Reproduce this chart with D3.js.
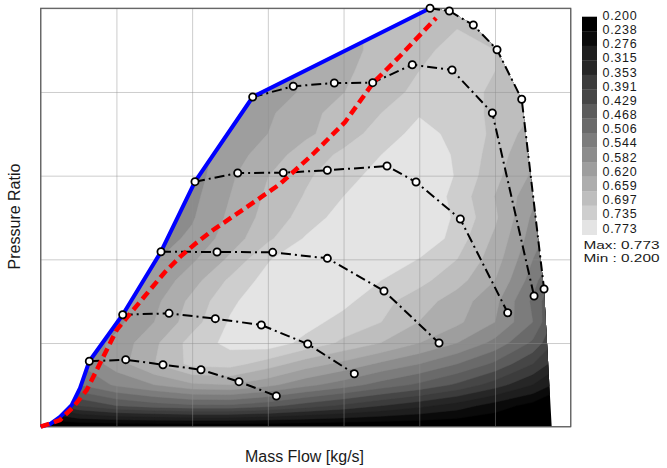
<!DOCTYPE html>
<html>
<head>
<meta charset="utf-8">
<script src="https://cdn.jsdelivr.net/npm/d3@7"></script>
<style>
  html, body { margin: 0; padding: 0; background: #fff; }
  svg { display: block; font-family: "Liberation Sans", Arial, sans-serif; }
</style>
</head>
<body>
<svg id="chart" width="667" height="468"></svg>
<script>
// ---- Efficiency levels of the colour key ----
const levelLabels = ["0.200","0.238","0.276","0.315","0.353","0.391","0.429","0.468",
                     "0.506","0.544","0.582","0.620","0.659","0.697","0.735","0.773"];
const effMax = 0.773;
const effMin = 0.200;

// ---- Efficiency field sampled on a regular grid ----
// columns: mass flow, rows: pressure ratio from top (6) to bottom (1)
const gridMassFlow = [0, 0.5, 1, 1.5, 2, 2.5, 3, 3.5, 4, 4.5, 5, 5.5, 6, 6.5, 7];
const gridPressureRatio = [6, 5.75, 5.5, 5.25, 5, 4.75, 4.5, 4.25, 4, 3.75, 3.5,
                           3.25, 3, 2.75, 2.5, 2.25, 2, 1.75, 1.5, 1.25, 1];
const efficiencyGrid = [
  [0.582,0.582,0.582,0.582,0.582,0.601,0.620,0.639,0.658,0.670,0.678,0.689,0.678,0.658,0.639],
  [0.582,0.582,0.582,0.582,0.582,0.601,0.620,0.632,0.651,0.666,0.681,0.697,0.689,0.666,0.639],
  [0.582,0.582,0.582,0.582,0.582,0.601,0.620,0.632,0.647,0.670,0.689,0.708,0.697,0.670,0.639],
  [0.582,0.582,0.582,0.582,0.582,0.593,0.613,0.624,0.651,0.678,0.697,0.708,0.697,0.670,0.639],
  [0.574,0.574,0.574,0.574,0.574,0.582,0.593,0.628,0.658,0.685,0.704,0.716,0.689,0.658,0.620],
  [0.574,0.574,0.574,0.574,0.574,0.582,0.613,0.647,0.674,0.697,0.731,0.716,0.689,0.658,0.620],
  [0.574,0.574,0.574,0.574,0.574,0.590,0.620,0.651,0.681,0.712,0.750,0.723,0.689,0.639,0.601],
  [0.563,0.563,0.563,0.563,0.563,0.601,0.639,0.678,0.704,0.735,0.773,0.727,0.681,0.620,0.582],
  [0.555,0.555,0.555,0.555,0.563,0.613,0.658,0.691,0.720,0.750,0.773,0.731,0.670,0.613,0.563],
  [0.555,0.555,0.555,0.555,0.571,0.620,0.666,0.700,0.735,0.773,0.773,0.720,0.658,0.593,0.525],
  [0.563,0.563,0.563,0.563,0.578,0.628,0.674,0.712,0.754,0.773,0.773,0.727,0.666,0.574,0.506],
  [0.563,0.563,0.563,0.563,0.590,0.639,0.689,0.739,0.773,0.773,0.773,0.716,0.651,0.563,0.487],
  [0.563,0.563,0.563,0.578,0.613,0.666,0.731,0.773,0.773,0.773,0.733,0.697,0.639,0.544,0.467],
  [0.563,0.563,0.563,0.590,0.643,0.704,0.750,0.773,0.773,0.735,0.708,0.674,0.620,0.525,0.391],
  [0.563,0.563,0.567,0.609,0.670,0.727,0.762,0.773,0.746,0.708,0.678,0.639,0.593,0.498,0.372],
  [0.563,0.563,0.571,0.620,0.681,0.739,0.773,0.750,0.720,0.697,0.658,0.628,0.582,0.506,0.353],
  [0.544,0.555,0.593,0.651,0.712,0.746,0.758,0.723,0.689,0.658,0.620,0.582,0.532,0.460,0.334],
  [0.525,0.544,0.601,0.658,0.708,0.712,0.678,0.639,0.609,0.574,0.544,0.506,0.460,0.391,0.296],
  [0.429,0.506,0.551,0.582,0.613,0.620,0.593,0.555,0.525,0.490,0.460,0.422,0.372,0.315,0.238],
  [0.315,0.391,0.429,0.448,0.460,0.460,0.441,0.410,0.383,0.353,0.326,0.296,0.257,0.223,0.200],
  [0.200,0.200,0.200,0.200,0.200,0.200,0.200,0.200,0.200,0.200,0.200,0.200,0.200,0.200,0.200]
];

// ---- Speed lines (mass flow, pressure ratio of each measured point) ----
const speedLineFlow = [
  [0.642, 1.123, 1.615, 2.117, 2.619, 3.112],
  [1.083, 1.695, 2.306, 2.914, 3.527, 4.142],
  [1.589, 2.329, 3.064, 3.786, 4.534, 5.261],
  [2.038, 2.602, 3.204, 3.786, 4.574, 4.957, 5.542, 6.168],
  [2.800, 3.336, 3.878, 4.385, 4.908, 5.433, 5.965, 6.516],
  [5.142, 5.397, 5.714, 6.027, 6.353, 6.648]
];
const speedLinePR = [
  [1.782, 1.801, 1.741, 1.681, 1.538, 1.367],
  [2.338, 2.355, 2.291, 2.215, 1.988, 1.633],
  [3.091, 3.088, 3.084, 3.012, 2.622, 2.000],
  [3.928, 4.032, 4.035, 4.064, 4.115, 3.924, 3.482, 2.362],
  [4.940, 5.068, 5.107, 5.111, 5.326, 5.263, 4.749, 2.562],
  [6.000, 5.968, 5.800, 5.505, 4.913, 2.646]
];

// ---- Surge line ----
const surgeFlow = [0, 0.123, 0.255, 0.409, 0.519, 0.642, 1.083, 1.589, 2.038, 2.800, 5.142];
const surgePR   = [1.000, 1.032, 1.116, 1.259, 1.462, 1.782, 2.338, 3.091, 3.928, 4.940, 6.000];

// ---- Choke limit at zero pressure rise ----
const chokeFlow = [6.749];
const chokePR   = [1.000];

// ---- Operating line ----
const operatingFlow = [0, 0.255, 0.431, 0.608, 0.740, 0.872, 1.004, 1.223, 1.444, 1.642, 1.840,
                       2.038, 2.276, 2.725, 3.161, 3.597, 4.020, 4.389, 4.746, 5.222];
const operatingPR   = [1.000, 1.080, 1.235, 1.439, 1.678, 1.917, 2.157, 2.396, 2.635, 2.849, 3.029,
                       3.183, 3.351, 3.626, 3.900, 4.259, 4.641, 5.107, 5.430, 5.884];

// ---- Grey ramp for the efficiency bands ----
const bandGreys = ["#000000","#0a0a0a","#1e1e1e","#262626","#3c3c3c","#464646","#5c5c5c",
                   "#6a6a6a","#7c7c7c","#8c8c8c","#9e9e9e","#adadad","#bebebe","#cecece","#e4e4e4"];

const svg = d3.select("#chart");
const plot = { left: 40.7, right: 570.7, top: 8.3, bottom: 426.7 };

const x = d3.scaleLinear().domain([0, 7]).range([plot.left, plot.right]);
const y = d3.scaleLinear().domain([1, 6]).range([plot.bottom, plot.top]);

const zip = (xs, ys) => xs.map((v, i) => [v, ys[i]]);
const line = d3.line().x(d => x(d[0])).y(d => y(d[1]));

// Map envelope: surge line, top speed line, choke edge, zero-pressure-rise floor
const topLine = zip(speedLineFlow[5], speedLinePR[5]);
const envelope = zip(surgeFlow, surgePR)
  .concat(topLine.slice(1))
  .concat(zip(chokeFlow, chokePR));

svg.append("clipPath").attr("id", "mapClip")
  .append("path").attr("d", line(envelope) + "Z");

// ---- Filled efficiency contours ----
const nx = gridMassFlow.length, ny = gridPressureRatio.length;
const stepX = gridMassFlow[1] - gridMassFlow[0];
const stepY = gridPressureRatio[0] - gridPressureRatio[1];
const thresholds = levelLabels.slice(0, bandGreys.length).map(Number);
const contours = d3.contours().size([nx, ny]).thresholds(thresholds)(efficiencyGrid.flat());
const gridToScreen = d3.geoTransform({
  point(gx, gy) {
    this.stream.point(
      x(gridMassFlow[0] + (gx - 0.5) * stepX),
      y(gridPressureRatio[0] - (gy - 0.5) * stepY)
    );
  }
});
const contourPath = d3.geoPath(gridToScreen);

svg.append("g").attr("clip-path", "url(#mapClip)")
  .selectAll("path").data(contours).join("path")
  .attr("d", contourPath)
  .attr("fill", d => bandGreys[thresholds.indexOf(d.value)])
  .attr("stroke", d => bandGreys[thresholds.indexOf(d.value)])
  .attr("stroke-width", 0.4);

// ---- Grid ----
const grid = svg.append("g").attr("class", "grid");
grid.append("g").attr("transform", `translate(0,${plot.bottom})`)
  .call(d3.axisBottom(x).ticks(7).tickSize(-(plot.bottom - plot.top)).tickFormat(""));
grid.append("g").attr("transform", `translate(${plot.left},0)`)
  .call(d3.axisLeft(y).ticks(5).tickSize(-(plot.right - plot.left)).tickFormat(""));
grid.selectAll(".domain").remove();
grid.selectAll(".tick line").attr("stroke", "#8f8f8f").attr("stroke-opacity", 0.45).attr("stroke-width", 1);

// ---- Frame ----
svg.append("rect")
  .attr("x", plot.left).attr("y", plot.top)
  .attr("width", plot.right - plot.left).attr("height", plot.bottom - plot.top)
  .attr("fill", "none").attr("stroke", "#5a5a5a").attr("stroke-width", 1.2);

// ---- Speed lines ----
speedLineFlow.forEach((flows, k) => {
  svg.append("path")
    .attr("d", line(zip(flows, speedLinePR[k])))
    .attr("fill", "none").attr("stroke", "#000").attr("stroke-width", 2)
    .attr("stroke-dasharray", "10,4,2,4");
});

// ---- Surge line ----
svg.append("path")
  .attr("d", line(zip(surgeFlow, surgePR)))
  .attr("fill", "none").attr("stroke", "#0000ff").attr("stroke-width", 4)
  .attr("stroke-linejoin", "round");

// ---- Operating line ----
svg.append("path")
  .attr("d", line(zip(operatingFlow, operatingPR)))
  .attr("fill", "none").attr("stroke", "#ff0000").attr("stroke-width", 4.5)
  .attr("stroke-dasharray", "9,5");

// ---- Measured points ----
speedLineFlow.forEach((flows, k) => {
  svg.append("g").selectAll("circle").data(zip(flows, speedLinePR[k])).join("circle")
    .attr("cx", d => x(d[0])).attr("cy", d => y(d[1])).attr("r", 3.6)
    .attr("fill", "#fff").attr("stroke", "#000").attr("stroke-width", 1.8);
});

// ---- Axis titles ----
svg.append("text")
  .attr("x", 304.5).attr("y", 462)
  .attr("text-anchor", "middle").attr("font-size", 16).attr("fill", "#1a1a1a")
  .text("Mass Flow [kg/s]");
svg.append("text")
  .attr("transform", "translate(19.5,216.5) rotate(-90)")
  .attr("text-anchor", "middle").attr("font-size", 16).attr("fill", "#1a1a1a")
  .text("Pressure Ratio");

// ---- Colour key ----
const key = svg.append("g");
const keyTop = 16.7, keyBottom = 234.7;
const bandH = (keyBottom - keyTop) / bandGreys.length;
key.selectAll("rect").data(bandGreys).join("rect")
  .attr("x", 582).attr("y", (d, i) => keyTop + i * bandH)
  .attr("width", 15).attr("height", bandH + 0.3)
  .attr("fill", d => d);
key.selectAll("text.level").data(levelLabels).join("text")
  .attr("class", "level")
  .attr("x", 602.5).attr("y", (d, i) => 19.8 + i * 14.18)
  .attr("font-size", 12.5).attr("letter-spacing", 0.7).attr("fill", "#1a1a1a")
  .text(d => d);
key.append("text").attr("x", 583.5).attr("y", 248.6)
  .attr("font-size", 11.2).attr("fill", "#1a1a1a")
  .attr("textLength", 76).attr("lengthAdjust", "spacingAndGlyphs")
  .text(`Max: ${effMax.toFixed(3)}`);
key.append("text").attr("x", 583.5).attr("y", 261.5)
  .attr("font-size", 11.2).attr("fill", "#1a1a1a")
  .attr("textLength", 76).attr("lengthAdjust", "spacingAndGlyphs")
  .text(`Min : ${effMin.toFixed(3)}`);
</script>
</body>
</html>
